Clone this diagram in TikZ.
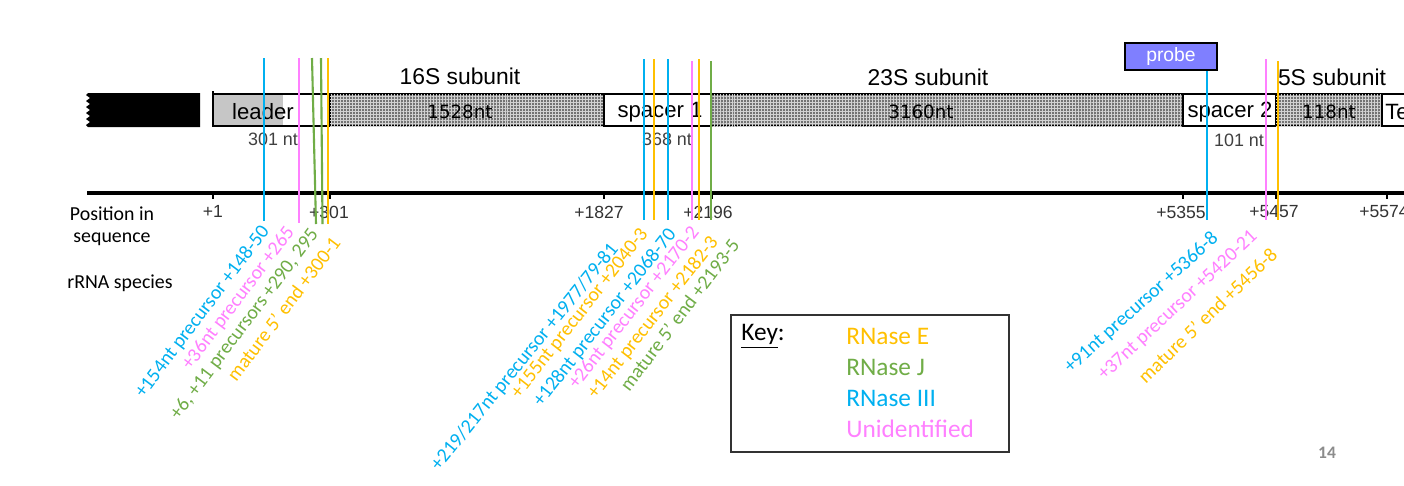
\documentclass[tikz,border=0pt]{standalone}
\usepackage{fontspec}
\setmainfont{Carlito}
\newfontfamily\arialf{Liberation Sans}
\newfontfamily\dvs{DejaVu Sans}
\usetikzlibrary{patterns.meta}
\definecolor{cE}{HTML}{FFC000}
\definecolor{cJ}{HTML}{70AD47}
\definecolor{cIII}{HTML}{00B0F0}
\definecolor{cU}{HTML}{FF80FF}
\definecolor{probeblue}{HTML}{7F7FFF}
\begin{document}
\begin{tikzpicture}[x=0.02cm,y=-0.02cm,
  boxline/.style={draw=black,line width=1.4pt},
  hatch/.style={fill=black!55,
    postaction={pattern={Lines[angle=0,distance=1.7pt,line width=0.3pt]},pattern color=gray!35},
    postaction={pattern={Lines[angle=90,distance=1.7pt,line width=0.3pt]},pattern color=gray!35}},
  cut/.style={line width=1.2pt},
  tick/.style={line width=1.2pt},
  lab/.style={anchor=east,inner sep=0pt,font=\fontsize{11.3}{13}\selectfont},
  sublab/.style={font=\arialf\fontsize{13}{15}\selectfont,inner sep=0pt},
  boxlab/.style={font=\arialf\fontsize{12.6}{14}\selectfont,inner sep=0pt},
  ntlab/.style={font=\dvs\fontsize{10.4}{12}\selectfont,inner sep=0pt},
  lenlab/.style={font=\arialf\fontsize{10.2}{12}\selectfont,text=black!75,inner sep=0pt},
  ticklab/.style={font=\arialf\fontsize{10}{12}\selectfont,text=black!80,inner sep=0pt},
  sidelab/.style={font=\fontsize{11.3}{13}\selectfont,inner sep=0pt},
  keylab/.style={font=\fontsize{14.4}{17}\selectfont,inner sep=0pt,anchor=west},
]
\clip (0,0) rectangle (1404,485);
\fill[white] (0,0) rectangle (1404,485);

% ---- bar ----
\fill[black] (200,93) -- (88,93) -- (86,95) -- (90,98) -- (86,101) -- (90,104) -- (86,107)
  -- (90,110) -- (86,113) -- (90,116) -- (86,119) -- (90,122) -- (86,125) -- (88,127)
  -- (200,127) -- cycle;
\fill[gray!45] (213,94) rectangle (283,126);
\draw[boxline] (213,94) rectangle (330,126);
\draw[boxline] (213,91) -- (213,94);
\draw[boxline,hatch] (330,94) rectangle (604,126);
\draw[boxline,fill=white] (604,94) rectangle (711,126);
\draw[boxline,hatch] (711,94) rectangle (1183,126);
\draw[boxline,fill=white] (1183,94) rectangle (1276,126);
\draw[boxline,hatch] (1276,94) rectangle (1382,126);
\draw[boxline,fill=white] (1382,94) rectangle (1440,126);

\node[boxlab] (leader) at (263,112) {leader};
\node[ntlab] (n16) at (460,112) {1528nt};
\node[boxlab] (sp1) at (660,112) {spacer 1};
\node[ntlab] (n23) at (921,112) {3160nt};
\node[boxlab] (sp2) at (1230,112) {spacer 2};
\node[ntlab] (n5) at (1329,112) {118nt};
\node[boxlab,anchor=west] (te) at (1385,112) {Te};

\node[sublab] (s16) at (460,76) {16S subunit};
\node[sublab] (s23) at (928,77) {23S subunit};
\node[sublab] (s5) at (1332,77) {5S subunit};

\node[lenlab] (l301) at (273,139) {301 nt};
\node[lenlab] (l368) at (667,139) {368 nt};
\node[lenlab] (l101) at (1239,140) {101 nt};

% ---- axis ----
\draw[line width=2.3pt] (87,193) -- (1404,193);
\foreach \x in {213,330,604,712,1183,1276,1387} \draw[tick] (\x,193) -- (\x,199);
\node[ticklab] (t1) at (213,211) {+1};
\node[ticklab] (t301) at (329,212) {+301};
\node[ticklab] (t1827) at (599,212) {+1827};
\node[ticklab] (t2196) at (708,212) {+2196};
\node[ticklab] (t5355) at (1181,212) {+5355};
\node[ticklab] (t5457) at (1274,212) {+5457};
\node[ticklab] (t5574) at (1384,212) {+5574};

\node[sidelab] (pos1) at (112,214) {Position in};
\node[sidelab] (pos2) at (112,239) {sequence};
\node[sidelab] (rrna) at (120,283) {rRNA species};

% ---- probe ----
\node[draw=black,line width=1.4pt,fill=probeblue,text=white,inner sep=0pt,
  minimum width=1.84cm,minimum height=0.54cm,font=\arialf\fontsize{11}{13}\selectfont]
  (probe) at (1171,56.5) {probe};

% ---- cut sites ----
\coordinate (a1t) at (264,58);   \coordinate (a1b) at (264,221);
\coordinate (a2t) at (299,58);   \coordinate (a2b) at (299,223);
\coordinate (a3t) at (312,58);   \coordinate (a3b) at (316,224);
\coordinate (a4t) at (321,58);   \coordinate (a4b) at (322.5,224);
\coordinate (a5t) at (328,58);   \coordinate (a5b) at (328,224);
\draw[cut,cIII] (a1t) -- (a1b);
\draw[cut,cU] (a2t) -- (a2b);
\draw[cut,cJ] (a3t) -- (a3b);
\draw[cut,cJ] (a4t) -- (a4b);
\draw[cut,cE] (a5t) -- (a5b);

\coordinate (b1t) at (644,59);   \coordinate (b1b) at (644,220);
\coordinate (b2t) at (654,59);   \coordinate (b2b) at (654,220);
\coordinate (b3t) at (668,59);   \coordinate (b3b) at (668,220);
\coordinate (b4t) at (692,61);   \coordinate (b4b) at (692,220);
\coordinate (b5t) at (699,59);   \coordinate (b5b) at (699,220);
\coordinate (b6t) at (711,61);   \coordinate (b6b) at (711,220);
\draw[cut,cIII] (b1t) -- (b1b);
\draw[cut,cE] (b2t) -- (b2b);
\draw[cut,cIII] (b3t) -- (b3b);
\draw[cut,cU] (b4t) -- (b4b);
\draw[cut,cE] (b5t) -- (b5b);
\draw[cut,cJ] (b6t) -- (b6b);

\coordinate (c1b) at (1207,220);
\coordinate (c2t) at (1266,59);  \coordinate (c2b) at (1266,220);
\coordinate (c3t) at (1278,61);  \coordinate (c3b) at (1278,220);
\draw[cut,cIII] (probe.south -| c1b) -- (c1b);
\draw[cut,cU] (c2t) -- (c2b);
\draw[cut,cE] (c3t) -- (c3b);

% ---- rotated labels ----
\node[lab,text=cIII,rotate=53] (la1) at (266,228) {+154nt precursor +148-50};
\node[lab,text=cU,rotate=53] (la2) at (291,229) {+36nt precursor +265};
\node[lab,text=cJ,rotate=53] (la3) at (315,231) {+6, +11 precursors +290, 295};
\node[lab,text=cE,rotate=53] (la4) at (336,239) {mature 5’ end +300-1};

\node[lab,text=cIII,rotate=51] (lb1) at (615,246) {+219/217nt precursor +1977/79-81};
\node[lab,text=cE,rotate=52] (lb2) at (645,231) {+155nt precursor +2040-3};
\node[lab,text=cIII,rotate=52] (lb3) at (673,231) {+128nt precursor +2068-70};
\node[lab,text=cU,rotate=52] (lb4) at (696,229) {+26nt precursor +2170-2};
\node[lab,text=cE,rotate=52] (lb5) at (715,239) {+14nt precursor +2182-3};
\node[lab,text=cJ,rotate=53] (lb6) at (735,241) {mature 5’ end +2193-5};

\node[lab,text=cIII,rotate=42] (lc1) at (1216,236) {+91nt precursor +5366-8};
\node[lab,text=cU,rotate=43] (lc2) at (1255,234) {+37nt precursor +5420-21};
\node[lab,text=cE,rotate=44] (lc3) at (1274,251) {mature 5’ end +5456-8};

% ---- key ----
\draw[line width=0.8pt,draw=black!80] (731,315) rectangle (1009,452);
\node[keylab] (keyt) at (741,336) {\underline{Key}:};
\node[keylab,text=cE] (kE) at (846,336) {RNase E};
\node[keylab,text=cJ] (kJ) at (846,367) {RNase J};
\node[keylab,text=cIII] (kIII) at (846,398) {RNase III};
\node[keylab,text=cU] (kU) at (846,429) {Unidentified};

\node[font=\bfseries\fontsize{10}{12}\selectfont,text=black!45,inner sep=0pt] (pg) at (1327,453) {14};
\end{tikzpicture}
\end{document}
